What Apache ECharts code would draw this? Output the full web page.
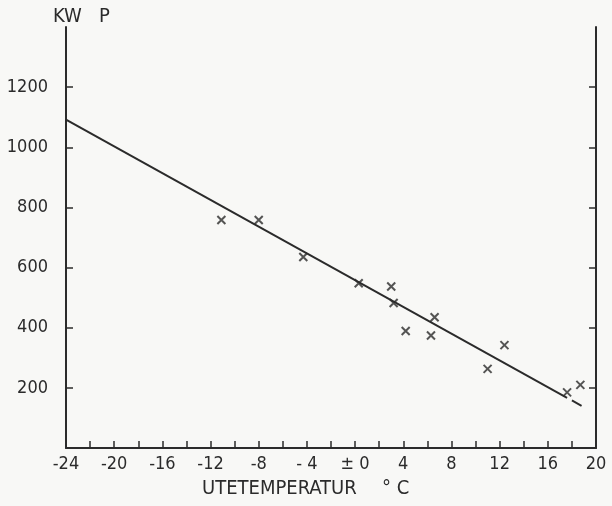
<!DOCTYPE html>
<html>
<head>
<meta charset="utf-8">
<script src="https://cdn.jsdelivr.net/npm/echarts@6/dist/echarts.min.js"></script>
<style>
html,body{margin:0;padding:0;background:#f8f8f6;}
#main{width:612px;height:506px;}
</style>
</head>
<body>
<div id="main"></div>
<script>
// mätpunkter: utetemperatur (°C) och effekt (kW)
var tempX = [-11.1, -8.0, -4.3, 0.3, 3.0, 3.2, 4.2, 6.6, 6.3, 11.0, 12.4, 17.6, 18.7];
var effektY = [758, 758, 635, 548, 537, 482, 389, 435, 374, 263, 342, 185, 210];
// regressionslinje
var fitX = [-24, 17.6];
var fitY = [1092, 167];
var extX = [18.0, 18.8];
var extY = [158, 140];
// axlar
var xTicks = [-24, -20, -16, -12, -8, -4, 0, 4, 8, 12, 16, 20];
var xTickLabels = ['-24', '-20', '-16', '-12', '-8', '- 4', '± 0', '4', '8', '12', '16', '20'];
var xMinor = [-22, -20, -18, -16, -14, -12, -10, -8, -6, -4, -2, 0, 2, 4, 6, 8, 10, 12, 14, 16, 18];
var yTicks = [200, 400, 600, 800, 1000, 1200];

var ink = '#2b2b2b';
var font = '"DejaVu Sans Condensed", sans-serif';

function pairs(xs, ys) {
    var out = [];
    xs.forEach(function (x, i) { out.push([x, ys[i]]); });
    return out;
}

var myChart = echarts.init(document.getElementById('main'));
myChart.setOption({
    backgroundColor: '#f8f8f6',
    animation: false,
    grid: { left: 66, right: 16, top: 27, bottom: 58 },
    xAxis: {
        type: 'value',
        min: -24,
        max: 20,
        interval: 4,
        splitLine: { show: false },
        axisLine: { onZero: false, lineStyle: { color: ink, width: 2 } },
        axisTick: { inside: true, length: 7, customValues: xMinor, lineStyle: { color: ink, width: 1.5 } },
        axisLabel: {
            color: ink, fontFamily: font, fontSize: 18, margin: 7,
            customValues: xTicks,
            formatter: function (v) { return xTickLabels[xTicks.indexOf(v)]; }
        }
    },
    yAxis: [{
        type: 'value',
        min: 0,
        max: 1400,
        interval: 200,
        splitLine: { show: false },
        axisLine: { show: true, onZero: false, lineStyle: { color: ink, width: 2 } },
        axisTick: { inside: true, length: 7, customValues: yTicks, lineStyle: { color: ink, width: 1.5 } },
        axisLabel: {
            color: ink, fontFamily: font, fontSize: 18, margin: 18, customValues: yTicks,
            formatter: function (v) { return String(v); }
        }
    }, {
        type: 'value',
        position: 'right',
        min: 0,
        max: 1400,
        interval: 200,
        splitLine: { show: false },
        axisLine: { show: true, onZero: false, lineStyle: { color: ink, width: 2 } },
        axisTick: { inside: true, length: 7, customValues: yTicks, lineStyle: { color: ink, width: 1.5 } },
        axisLabel: { show: false }
    }],
    graphic: [
        { type: 'text', left: 53, top: 7, style: { text: 'KW   P', fill: ink, font: '20px ' + font } },
        { type: 'text', left: 202, top: 479, style: { text: 'UTETEMPERATUR', fill: ink, font: '20px ' + font } },
        { type: 'text', left: 382, top: 479, style: { text: '° C', fill: ink, font: '20px ' + font } }
    ],
    series: [{
        type: 'scatter',
        data: pairs(tempX, effektY),
        symbol: 'path://M0,0L10,10M10,0L0,10',
        symbolSize: 8,
        itemStyle: { color: 'none', borderColor: ink, borderWidth: 2 }
    }, {
        type: 'line',
        data: pairs(fitX, fitY),
        symbol: 'none',
        lineStyle: { color: ink, width: 2 }
    }, {
        type: 'line',
        data: pairs(extX, extY),
        symbol: 'none',
        lineStyle: { color: ink, width: 2 }
    }]
});
</script>
</body>
</html>
